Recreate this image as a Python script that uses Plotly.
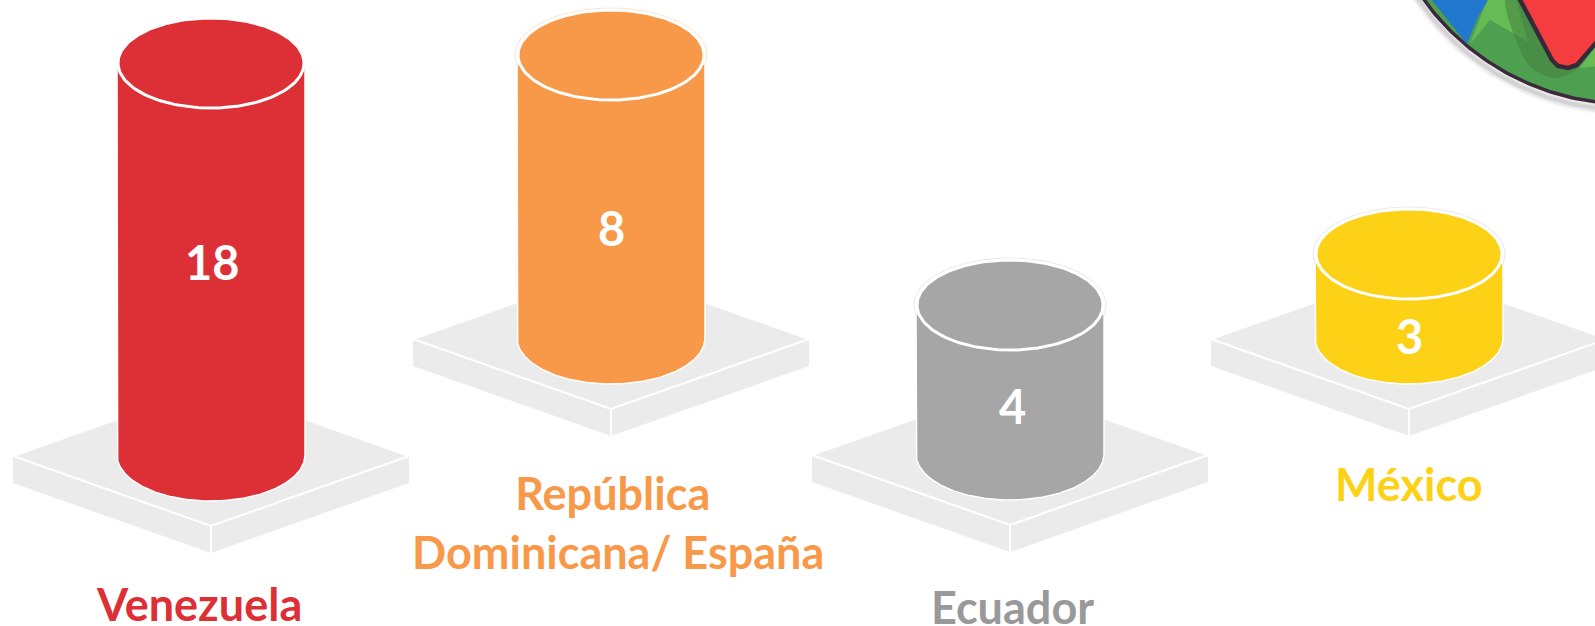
import numpy as np
import plotly.graph_objects as go

categories = ["Venezuela", "República\u00a0<br>Dominicana/ España", "Ecuador", "México"]
values = [18, 8, 4, 3]
colors = ["#DC3036", "#F89949", "#A6A6A6", "#FDD116"]
label_colors = ["#DC3036", "#F89949", "#999999", "#FDD116"]

# pictorial layout, in page pixels
centers = [211, 611, 1010, 1409]
top_y = [63, 55, 305, 254]
base_y = [455, 338, 454, 338]
value_xy = [(212, 262), (611, 228), (1012, 406), (1409, 336)]
label_xy = [(199, 604), (618, 522), (1012, 607), (1409, 484)]
RX, RY = 94, 46
PW, PH, PT = 198, 70, 27


def ell(cx, cy, rx, ry, a0=0, a1=2 * np.pi, n=160):
    t = np.linspace(a0, a1, n)
    return cx + rx * np.cos(t), cy + ry * np.sin(t)


fig = go.Figure()


def poly(x, y, fill, line=None, lw=0, opacity=1, shape="linear"):
    fig.add_trace(go.Scatter(
        x=list(x), y=list(y), mode="lines", fill="toself", fillcolor=fill, opacity=opacity,
        line=dict(color=line or "rgba(0,0,0,0)", width=lw, shape=shape), hoverinfo="skip", showlegend=False))


# platforms
for cx, by in zip(centers, base_y):
    py = by + 1
    poly([cx - PW, cx, cx, cx - PW, cx - PW], [py, py + PH, py + PH + PT, py + PT, py], "#EBEBEB")
    poly([cx + PW, cx, cx, cx + PW, cx + PW], [py, py + PH, py + PH + PT, py + PT, py], "#EBEBEB")
    poly([cx - PW, cx, cx + PW, cx, cx - PW], [py, py - PH, py, py + PH, py], "#EBEBEB", "#FFFFFF", 2)
    fig.add_trace(go.Scatter(x=[cx, cx], y=[py + PH, py + PH + PT], mode="lines",
                             line=dict(color="#FFFFFF", width=2), hoverinfo="skip", showlegend=False))

# cylinders
for i, (cx, ty, by, c) in enumerate(zip(centers, top_y, base_y, colors)):
    if i > 0:
        rx, ry = ell(cx, ty, RX + 2, RY + 1)
        fig.add_trace(go.Scatter(x=rx, y=ry, mode="lines", line=dict(color="#FBE3CF" if i == 1 else "#E8E8E8", width=1),
                                 hoverinfo="skip", showlegend=False))
    sx2, sy2 = ell(cx, by, RX, RY, 0, np.pi)
    start = ty if i == 0 else ty + 10
    bx = np.r_[cx - RX, sx2[::-1], cx + RX]
    by2 = np.r_[start, sy2[::-1], start]
    poly(bx, by2, c, "#FFFFFF", 1.5)
    ex, ey = ell(cx, ty, RX - 1, RY - 1)
    poly(ex, ey, c, "#FFFFFF", 3)

# logo fragment, top right
LCX, LCY, LR = 1628, -148, 252
for w, o in [(12, 0.04), (8, 0.07), (4, 0.12)]:
    sx, sy = ell(LCX - 1, LCY + 6, LR, LR, 0, 2 * np.pi, 400)
    fig.add_trace(go.Scatter(x=sx, y=sy, mode="lines", line=dict(color="#444444", width=w), opacity=o,
                             hoverinfo="skip", showlegend=False))
gx, gy = ell(LCX, LCY, LR, LR, 0, 2 * np.pi, 400)
poly(gx, gy, "#4E9F4F", "#3A2A3C", 3.5)
poly([1488, 1516, 1528, 1490, 1470, 1488], [-2, -2, 42, 20, 44, -2], "#66BB55")
poly([1580, 1600, 1600, 1580], [68, 40, 66, 68], "#66BB55")
poly([1506, 1522, 1540, 1560, 1578, 1556, 1532, 1516, 1506], [-2, 0, 40, 68, 68, 78, 68, 40, -2],
     "#44803F", opacity=0.55, shape="spline")
poly([1430, 1489, 1478, 1467, 1430], [-2, -2, 17, 44, -2], "#2278CC")
poly([1518, 1600, 1600, 1584, 1577, 1568, 1558, 1552, 1518], [-4, -4, 38, 58, 65, 68, 66, 60, -4],
     "#F53D3F", "#38293A", 4.5)

fig.update_layout(
    width=1595, height=626, margin=dict(l=0, r=0, t=0, b=0),
    paper_bgcolor="#FFFFFF", plot_bgcolor="#FFFFFF", showlegend=False,
    xaxis=dict(range=[0, 1595], visible=False, fixedrange=True),
    yaxis=dict(range=[626, 0], visible=False, fixedrange=True),
)

for (x, y), v in zip(value_xy, values):
    fig.add_annotation(x=x, y=y, text=f"<b>{v}</b>", showarrow=False, xanchor="center", yanchor="middle",
                       font=dict(family="Lato", size=47, color="#FFFFFF"))
for (x, y), cat, c in zip(label_xy, categories, label_colors):
    fig.add_annotation(x=x, y=y, text=f"<b>{cat}</b>", showarrow=False, xanchor="center", yanchor="middle",
                       align="center", font=dict(family="Lato", size=45, color=c))

fig.write_html("out.html", config={"displayModeBar": False},
               post_script="document.body.style.margin='0';document.documentElement.style.overflow='hidden';")
